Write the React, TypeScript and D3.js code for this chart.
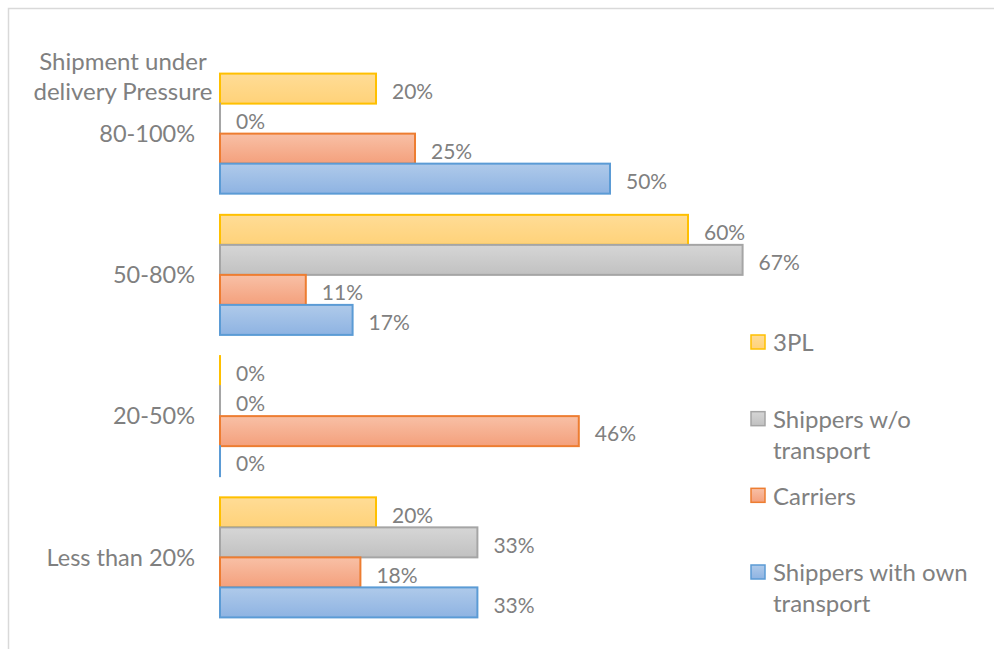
import { useEffect, useRef } from "react";
import * as d3 from "d3";

const categories = ["80-100%", "50-80%", "20-50%", "Less than 20%"];
const seriesNames = ["3PL", "Shippers w/o transport", "Carriers", "Shippers with own transport"];
const legendLines = [["3PL"], ["Shippers w/o", "transport"], ["Carriers"], ["Shippers with own", "transport"]];

const tplValues = [20, 60, 0, 20];
const shippersWithoutValues = [0, 67, 0, 33];
const carriersValues = [25, 11, 46, 18];
const shippersOwnValues = [50, 17, 0, 33];

const strokeColors = ["#FFC000", "#A5A5A5", "#ED7D31", "#5B9BD5"];
const gradTop = ["#FFDC96", "#D6D6D6", "#F8C0A6", "#AFCAEA"];
const gradBottom = ["#FFD279", "#C1C1C1", "#F4A07C", "#8EB3E2"];

const FONT = "Lato, 'Open Sans', sans-serif";
const TEXT_COLOR = "#808080";

export default function App() {
  const ref = useRef<SVGSVGElement | null>(null);

  useEffect(() => {
    const svg = d3.select(ref.current);
    svg.selectAll("*").remove();

    const allValues = [tplValues, shippersWithoutValues, carriersValues, shippersOwnValues];

    // frame
    svg
      .append("rect")
      .attr("x", 8.5)
      .attr("y", 8.5)
      .attr("width", 1000)
      .attr("height", 700)
      .attr("fill", "#fff")
      .attr("stroke", "#D9D9D9")
      .attr("stroke-width", 1.5);

    const defs = svg.append("defs");
    seriesNames.forEach((_, i) => {
      const g = defs
        .append("linearGradient")
        .attr("id", `grad${i}`)
        .attr("x1", "0")
        .attr("x2", "0")
        .attr("y1", "0")
        .attr("y2", "1");
      g.append("stop").attr("offset", "0%").attr("stop-color", gradTop[i]);
      g.append("stop").attr("offset", "100%").attr("stop-color", gradBottom[i]);
    });

    const x = d3.scaleLinear().domain([0, 100]).range([220, 1000]);
    const y0 = d3
      .scaleBand()
      .domain(categories)
      .range([63, 628])
      .paddingInner(0.15)
      .paddingOuter(0.075);
    const y1 = d3.scaleBand().domain(seriesNames).range([0, y0.bandwidth()]);

    const cells: { cat: string; series: string; idx: number; value: number }[] = [];
    categories.forEach((cat, ci) => {
      seriesNames.forEach((s, si) => {
        cells.push({ cat, series: s, idx: si, value: allValues[si][ci] });
      });
    });

    // bars (zero values still show their outline as a thin line)
    svg
      .selectAll("rect.bar")
      .data(cells)
      .enter()
      .append("rect")
      .attr("class", "bar")
      .attr("x", x(0))
      .attr("y", (d) => (y0(d.cat) as number) + (y1(d.series) as number))
      .attr("width", (d) => Math.max(0.01, x(d.value) - x(0)))
      .attr("height", y1.bandwidth())
      .attr("fill", (d) => `url(#grad${d.idx})`)
      .attr("stroke", (d) => strokeColors[d.idx])
      .attr("stroke-width", 2);

    // data labels
    svg
      .selectAll("text.lbl")
      .data(cells)
      .enter()
      .append("text")
      .attr("class", "lbl")
      .attr("x", (d) => x(d.value) + 16)
      .attr("y", (d) => (y0(d.cat) as number) + (y1(d.series) as number) + y1.bandwidth() / 2 + 3)
      .attr("dy", "0.35em")
      .style("font-family", FONT)
      .style("font-size", "21px")
      .style("fill", TEXT_COLOR)
      .text((d) => `${d.value}%`);

    // category labels
    svg
      .selectAll("text.cat")
      .data(categories)
      .enter()
      .append("text")
      .attr("class", "cat")
      .attr("x", 195)
      .attr("y", (d) => (y0(d) as number) + y0.bandwidth() / 2)
      .attr("dy", "0.35em")
      .attr("text-anchor", "end")
      .style("font-family", FONT)
      .style("font-size", "23.5px")
      .style("fill", TEXT_COLOR)
      .text((d) => d);

    // axis title
    const title = svg
      .append("text")
      .attr("x", 123)
      .attr("y", 62)
      .attr("text-anchor", "middle")
      .style("font-family", FONT)
      .style("font-size", "24px")
      .style("fill", TEXT_COLOR);
    title.append("tspan").attr("x", 123).attr("dy", "0.35em").text("Shipment under");
    title.append("tspan").attr("x", 123).attr("dy", 30).text("delivery Pressure");

    // legend
    const ly = d3.scalePoint().domain(seriesNames).range([343, 573]);
    const legend = svg
      .selectAll("g.leg")
      .data(seriesNames)
      .enter()
      .append("g")
      .attr("class", "leg")
      .attr("transform", (d) => `translate(751, ${ly(d)})`);

    legend
      .append("rect")
      .attr("x", 0)
      .attr("y", -8)
      .attr("width", 14)
      .attr("height", 14)
      .attr("fill", (_, i) => `url(#grad${i})`)
      .attr("stroke", (_, i) => strokeColors[i])
      .attr("stroke-width", 1.5);

    legend.each(function (_, i) {
      const t = d3
        .select(this)
        .append("text")
        .attr("x", 22)
        .attr("y", 0)
        .style("font-family", FONT)
        .style("font-size", "24px")
        .style("fill", TEXT_COLOR);
      legendLines[i].forEach((line, li) => {
        t.append("tspan")
          .attr("x", 22)
          .attr("dy", li === 0 ? "0.35em" : 31)
          .text(line);
      });
    });
  }, []);

  return (
    <svg
      ref={ref}
      width={994}
      height={649}
      style={{ position: "absolute", left: 0, top: 0, background: "#fff" }}
    />
  );
}
